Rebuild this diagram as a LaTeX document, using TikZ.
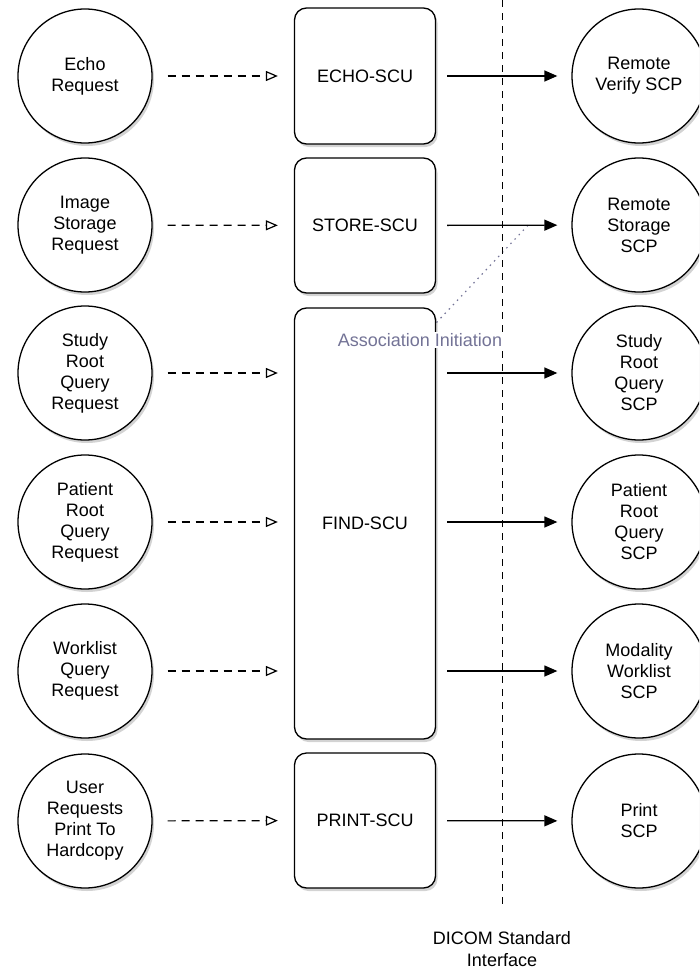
\documentclass[tikz,border=0pt]{standalone}
\usepackage{fontspec}
\setmainfont{Liberation Sans}
\usetikzlibrary{arrows.meta,shadows,backgrounds}

\definecolor{assocgrey}{RGB}{115,115,150}

\begin{document}
\begin{tikzpicture}[x=1pt,y=-1pt]
            \tikzset{boxshadow/.style = {drop shadow={opacity=0.35, shadow xshift=2pt, shadow yshift=-3pt}}}
            \tikzset{request/.style = {shape=circle, draw, line width=1.3pt, fill=white, minimum size=134pt, inner sep=0pt, align=center, font=\fontsize{18}{21}\selectfont, boxshadow}}
            \tikzset{scu/.style = {shape=rectangle, rounded corners=12pt, draw, line width=1.3pt, fill=white, minimum width=141pt, inner sep=0pt, font=\fontsize{18}{21}\selectfont, boxshadow}}
            \tikzset{local/.style = {draw, line width=1.2pt, dash pattern=on 8pt off 6pt, -{Triangle[open, length=12pt, width=10pt]}, shorten <=15pt, shorten >=16pt}}
            \tikzset{remote/.style = {draw, line width=1.3pt, -{Triangle[length=13pt, width=11pt]}, shorten <=11pt, shorten >=14pt}}
            \clip (0,0) rectangle (699,969);
            % interface line
            \coordinate (ifacetop) at (502,0);
            \coordinate (ifacebot) at (502,905);
            \draw[line width=1pt, dash pattern=on 7pt off 6pt] (ifacetop) -- (ifacebot);
            \node[align=center, font=\fontsize{18}{21.7}\selectfont] (iface) at (502,949) {DICOM Standard\\Interface};
            % requests
            \node[request] (echoreq) at  (85,76) {Echo\\Request};
            \node[request] (storereq) at  (85,225) {Image\\Storage\\Request};
            \node[request] (studyreq) at  (85,373) {Study\\Root\\Query\\Request};
            \node[request] (patientreq) at  (85,522) {Patient\\Root\\Query\\Request};
            \node[request] (worklistreq) at  (85,671) {Worklist\\Query\\Request};
            \node[request] (printreq) at  (85,821) {User\\Requests\\Print To\\Hardcopy};
            % service class users
            \node[scu, minimum height=136pt] (echoscu) at  (365,76) {ECHO-SCU};
            \node[scu, minimum height=135pt] (storescu) at  (365,225.5) {STORE-SCU};
            \node[scu, minimum height=431pt] (findscu) at  (365,523.5) {FIND-SCU};
            \node[scu, minimum height=135pt] (printscu) at  (365,820.5) {PRINT-SCU};
            % service class providers
            \node[request] (echoscp) at  (639,76) {Remote\\Verify SCP};
            \node[request] (storescp) at  (639,225) {Remote\\Storage\\SCP};
            \node[request] (studyscp) at  (639,373) {Study\\Root\\Query\\SCP};
            \node[request] (patientscp) at  (639,522) {Patient\\Root\\Query\\SCP};
            \node[request] (worklistscp) at  (639,671) {Modality\\Worklist\\SCP};
            \node[request] (printscp) at  (639,821) {Print\\SCP};
            % local requests
            \draw[local] (echoreq) to (echoscu);
            \draw[local] (storereq) to (storescu);
            \draw[local] (studyreq) to (studyreq -| findscu.west);
            \draw[local] (patientreq) to (patientreq -| findscu.west);
            \draw[local] (worklistreq) to (worklistreq -| findscu.west);
            \draw[local] (printreq) to (printscu);
            % associations
            \draw[remote] (echoscu) to (echoscp);
            \draw[remote] (storescu) to coordinate[pos=0.68] (assochit) (storescp);
            \draw[remote] (findscu.east |- studyscp) to (studyscp);
            \draw[remote] (findscu.east |- patientscp) to (patientscp);
            \draw[remote] (findscu.east |- worklistscp) to (worklistscp);
            \draw[remote] (printscu) to (printscp);
            % callout
            \node[fill=white, inner sep=1pt, text=assocgrey, font=\fontsize{18}{21}\selectfont] (assoc) at (420,340) {Association Initiation};
            \begin{scope}[on background layer]
                \draw[assocgrey, line width=1.2pt, dash pattern=on 1.5pt off 4.5pt] (assoc.center) to (assochit);
            \end{scope}
        \end{tikzpicture}
\end{document}
